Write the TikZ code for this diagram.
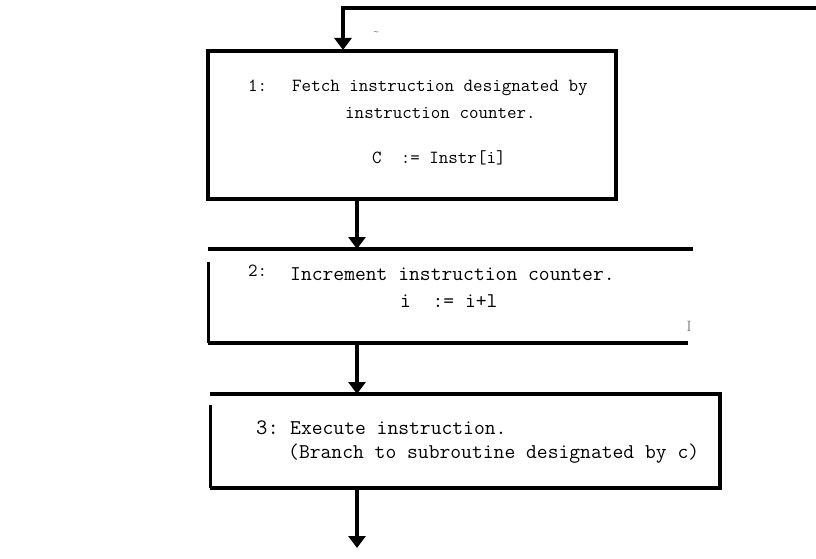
\documentclass[tikz,border=0pt]{standalone}
\usepackage{tikz}
\usetikzlibrary{arrows.meta}

\begin{document}
\begin{tikzpicture}[x=1pt, y=-1pt,
  boxline/.style={line width=4.5pt},
  flowarrow/.style={line width=3.5pt, -{Triangle[length=12pt, width=17pt]}},
  code/.style={font=\ttfamily\fontsize{18.5}{24}\selectfont, anchor=base west, inner sep=0pt},
  bigcode/.style={code, font=\ttfamily\fontsize{21}{24}\selectfont}]
\useasboundingbox (0,0) rectangle (816,559);

% --- Feedback loop from the right ---
\coordinate (loopR) at (816,8);
\coordinate (loopL) at (343,8);
\coordinate (b1top) at (343,50);
\draw[flowarrow] (loopR) -- (loopL) -- (b1top);
\node[inner sep=0pt, font=\small] (tick) at (376,33) {\textasciitilde};

% --- Box 1: fetch ---
\draw[boxline] (208,51) rectangle (616,199);
\node[code] (n1) at (248,92) {1:};
\node[code] (fetch) at (292,92) {Fetch instruction designated by};
\node[code] (fetchb) at (345,118) {instruction counter.};
\node[code] (fetchc) at (372,163) {C~~:= Instr[i]};

% --- Box 2: increment ---
\draw[boxline] (208,249) -- (693,249);
\draw[boxline] (208,343) -- (688,343);
\draw[line width=3pt] (208,262) -- (208,343);
\node[code] (n2) at (248,276) {2:};
\node[bigcode] (incr) at (290,280) {Increment instruction counter.};
\node[bigcode] (incrb) at (400,307) {i~~:= i+l};
\node[inner sep=0pt, font=\fontsize{15}{15}\selectfont, text=black!60] (mark) at (689,326) {I};

% --- Box 3: execute ---
\draw[boxline] (210,394) -- (720,394) -- (720,488) -- (210,488);
\draw[line width=3pt] (210,405) -- (210,488);
\node[code, font=\ttfamily\fontsize{22}{24}\selectfont] (n3) at (256,434) {3:};
\node[bigcode] (exec) at (290,434) {Execute instruction.};
\node[bigcode] (execb) at (288,458) {(Branch to subroutine designated by c)};

% --- Arrows between boxes ---
\coordinate (a1s) at (357,199);
\coordinate (a1e) at (357,249);
\coordinate (a2s) at (357,343);
\coordinate (a2e) at (357,394);
\coordinate (a3s) at (357,488);
\coordinate (a3e) at (357,548);
\draw[flowarrow] (a1s) -- (a1e);
\draw[flowarrow] (a2s) -- (a2e);
\draw[flowarrow] (a3s) -- (a3e);
\end{tikzpicture}
\end{document}
